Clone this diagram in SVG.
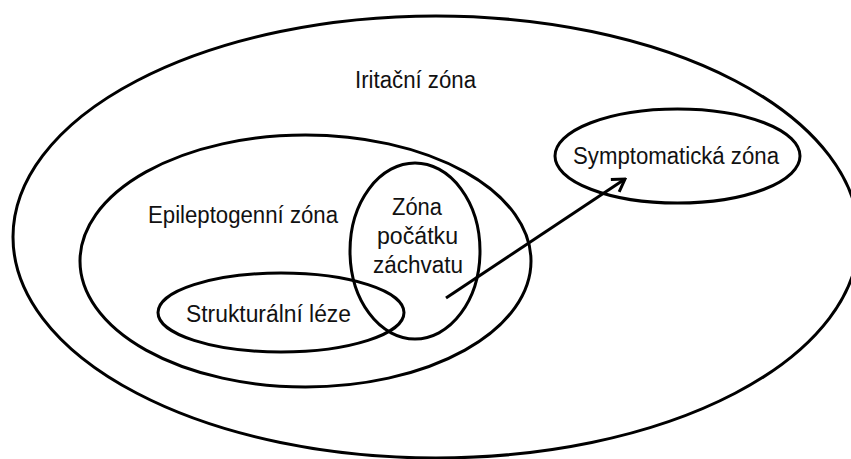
<svg xmlns="http://www.w3.org/2000/svg" width="851" height="459" viewBox="0 0 851 459">
<defs>
<style>
.zone{fill:none;stroke:#000;stroke-width:3}
.lbl{font-family:"Liberation Sans",Arial,sans-serif;font-size:23px;fill:#111;text-anchor:middle}
.conn{fill:none;stroke:#000;stroke-width:3}
</style>
<marker id="arr" markerUnits="userSpaceOnUse" viewBox="-14 -9 16 18" markerWidth="16" markerHeight="18" refX="0" refY="0" orient="auto">
<path d="M-12,-7.5 L0,0 L-12,7.5" fill="none" stroke="#000" stroke-width="3" stroke-linejoin="miter"/>
</marker>
</defs>
<rect width="851" height="459" fill="#fff"/>
<g id="iritacni">
<ellipse class="zone" cx="436" cy="237" rx="423" ry="221"/>
<text class="lbl" x="415.5" y="88" textLength="121" lengthAdjust="spacingAndGlyphs">Iritační zóna</text>
</g>
<g id="epileptogenni">
<ellipse class="zone" cx="305.5" cy="261" rx="225.5" ry="126"/>
<text class="lbl" x="243" y="223" textLength="190" lengthAdjust="spacingAndGlyphs">Epileptogenní zóna</text>
</g>
<g id="pocatek">
<ellipse class="zone" cx="415" cy="251" rx="65" ry="88"/>
<text class="lbl" x="417" y="215" textLength="50" lengthAdjust="spacingAndGlyphs">Zóna</text>
<text class="lbl" x="417.5" y="244" textLength="81" lengthAdjust="spacingAndGlyphs">počátku</text>
<text class="lbl" x="418" y="273" textLength="90" lengthAdjust="spacingAndGlyphs">záchvatu</text>
</g>
<g id="strukturalni">
<ellipse class="zone" cx="281" cy="312.5" rx="123" ry="39.5"/>
<text class="lbl" x="268.5" y="322" textLength="165" lengthAdjust="spacingAndGlyphs">Strukturální léze</text>
</g>
<g id="symptomaticka">
<ellipse class="zone" cx="677.5" cy="156" rx="122.5" ry="47"/>
<text class="lbl" x="676" y="164" textLength="206" lengthAdjust="spacingAndGlyphs">Symptomatická zóna</text>
</g>
<g id="connectors">
<line class="conn" x1="446" y1="298" x2="625" y2="179" marker-end="url(#arr)"/>
</g>
</svg>
